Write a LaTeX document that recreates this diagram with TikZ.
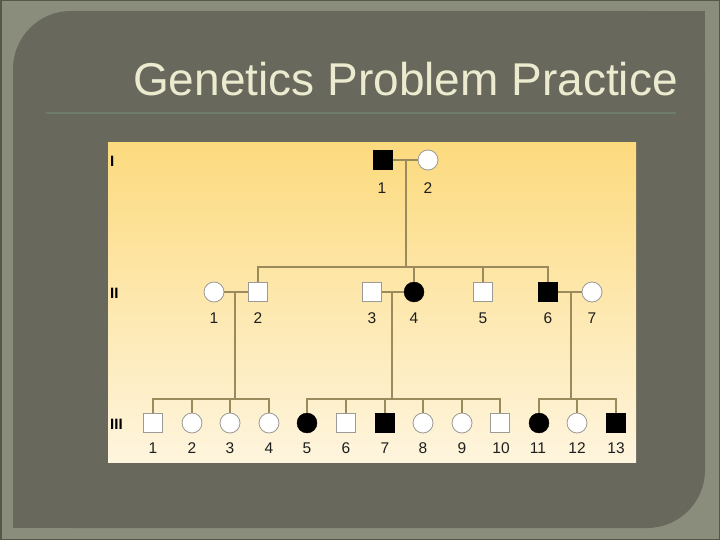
\documentclass[tikz,border=0pt]{standalone}
\usepackage{fontspec}
\setmainfont{Liberation Sans}
\definecolor{outerbg}{HTML}{8A8C7C}
\definecolor{framedark}{HTML}{55574B}
\definecolor{innerbg}{HTML}{68685C}
\definecolor{titlecolor}{HTML}{ECEBCF}
\definecolor{rulecol}{HTML}{6E7D6A}
\definecolor{paneltop}{HTML}{FCDA7E}
\definecolor{panelbot}{HTML}{FEF5DE}
\definecolor{pedline}{HTML}{9A8A5C}
\definecolor{shapeline}{HTML}{9A9A96}
\definecolor{labtext}{HTML}{1E1E1E}
\begin{document}
\begin{tikzpicture}[x=1pt,y=-1pt,
  ped/.style={draw=pedline, line width=1.4pt},
  male/.style={rectangle, draw=shapeline, line width=0.8pt, fill=white, minimum size=19pt, inner sep=0pt},
  amale/.style={rectangle, draw=black, fill=black, minimum size=19pt, inner sep=0pt},
  female/.style={circle, draw=shapeline, line width=0.8pt, fill=white, minimum size=20pt, inner sep=0pt},
  afemale/.style={circle, draw=black, fill=black, minimum size=20pt, inner sep=0pt},
  lab/.style={font=\fontsize{15.5}{15.5}\selectfont, text=labtext, inner sep=0pt},
  gen/.style={font=\bfseries\fontsize{15}{15}\selectfont, text=black, inner sep=0pt, anchor=west},
]
\useasboundingbox (0,0) rectangle (720,540);
% background frame
\fill[outerbg] (0,0) rectangle (720,540);
\draw[framedark, line width=1.5pt] (0.75,0.75) rectangle (719.25,539.25);
\fill[innerbg, rounded corners=58pt] (13,11) rectangle (705,528);
\fill[innerbg] (300,11) rectangle (705,300);
\fill[innerbg] (13,300) rectangle (300,528);
% title
\node[anchor=base west, text=titlecolor, inner sep=0pt, font=\fontsize{46}{46}\selectfont] (title) at (133,96) {Genetics Problem Practice};
\draw[rulecol, line width=2pt] (46,113) -- (676,113);
% panel
\shade[top color=paneltop, bottom color=panelbot] (108,143) rectangle (636,462);
% generation labels
\node[gen] (gI) at (110,161) {I};
\node[gen] (gII) at (110,293) {II};
\node[gen] (gIII) at (110,424) {III};
% generation I
\node[amale] (I1) at (383,160) {};
\node[female] (I2) at (428,160) {};
\node[lab] (lI1) at (382,188) {1};
\node[lab] (lI2) at (428,188) {2};
% generation II
\node[female] (II1) at (214,292) {};
\node[male] (II2) at (258,292) {};
\node[male] (II3) at (372,292) {};
\node[afemale] (II4) at (414,292) {};
\node[male] (II5) at (483,292) {};
\node[amale] (II6) at (548,292) {};
\node[female] (II7) at (592,292) {};
\foreach \n/\x in {1/214,2/258,3/372,4/414,5/483,6/548,7/592}
  \node[lab] (lII\n) at (\x,318) {\n};
% generation III
\node[male] (III1) at (153,423) {};
\node[female] (III2) at (192,423) {};
\node[female] (III3) at (230,423) {};
\node[female] (III4) at (269,423) {};
\node[afemale] (III5) at (307,423) {};
\node[male] (III6) at (346,423) {};
\node[amale] (III7) at (385,423) {};
\node[female] (III8) at (423,423) {};
\node[female] (III9) at (462,423) {};
\node[male] (III10) at (500,423) {};
\node[afemale] (III11) at (539,423) {};
\node[female] (III12) at (577,423) {};
\node[amale] (III13) at (616,423) {};
\foreach \n/\x in {1/153,2/192,3/230,4/269,5/307,6/346,7/385,8/423,9/462,10/501,11/538,12/577,13/616}
  \node[lab] (lIII\n) at (\x,448) {\n};
% connectors generation I -> II
\coordinate (m1) at (406,160);
\coordinate (s1) at (406,267);
\draw[ped] (I1) -- (I2);
\draw[ped] (m1) -- (s1);
\draw[ped] (II2.north) -- (II2.north |- s1) -- (II6.north |- s1) -- (II6.north);
\draw[ped] (II4.north) -- (II4.north |- s1);
\draw[ped] (II5.north) -- (II5.north |- s1);
% family II1 x II2
\coordinate (m2) at (235,292);
\coordinate (s2) at (235,399);
\draw[ped] (II1) -- (II2);
\draw[ped] (m2) -- (s2);
\draw[ped] (III1.north) -- (III1.north |- s2) -- (III4.north |- s2) -- (III4.north);
\draw[ped] (III2.north) -- (III2.north |- s2);
\draw[ped] (III3.north) -- (III3.north |- s2);
% family II3 x II4
\coordinate (m3) at (392,292);
\coordinate (s3) at (392,399);
\draw[ped] (II3) -- (II4);
\draw[ped] (m3) -- (s3);
\draw[ped] (III5.north) -- (III5.north |- s3) -- (III10.north |- s3) -- (III10.north);
\foreach \c in {III6,III7,III8,III9}
  \draw[ped] (\c.north) -- (\c.north |- s3);
% family II6 x II7
\coordinate (m4) at (571,292);
\coordinate (s4) at (571,399);
\draw[ped] (II6) -- (II7);
\draw[ped] (m4) -- (s4);
\draw[ped] (III11.north) -- (III11.north |- s4) -- (III13.north |- s4) -- (III13.north);
\draw[ped] (III12.north) -- (III12.north |- s4);
\end{tikzpicture}
\end{document}
